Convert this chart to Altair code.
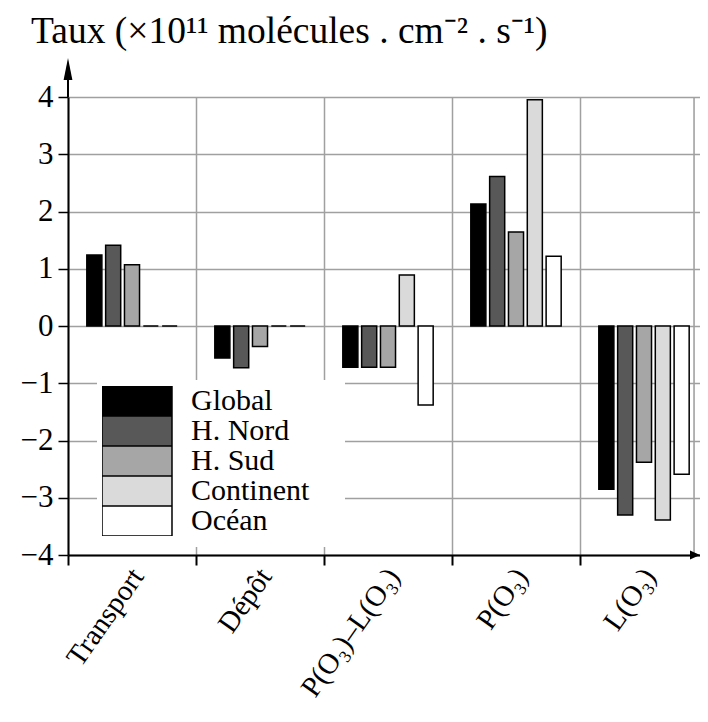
import altair as alt
import pandas as pd

# ---- data ----
categories = ["Transport", "Dépôt", "P(O₃)–L(O₃)", "P(O₃)", "L(O₃)"]
series = ["Global", "H. Nord", "H. Sud", "Continent", "Océan"]
transport = [1.24, 1.41, 1.07, 0.0, 0.0]
depot = [-0.56, -0.73, -0.36, 0.0, 0.0]
p_minus_l = [-0.72, -0.72, -0.72, 0.89, -1.38]
production = [2.13, 2.61, 1.64, 3.95, 1.22]
loss = [-2.85, -3.30, -2.38, -3.39, -2.59]
y_ticks = [-4, -3, -2, -1, 0, 1, 2, 3, 4]
fills = ["#000000", "#585858", "#a6a6a6", "#dadada", "#ffffff"]
title_text = "Taux (×10¹¹ molécules . cm⁻² . s⁻¹)"

rows = []
for cat, vals in zip(categories, [transport, depot, p_minus_l, production, loss]):
    for s, v in zip(series, vals):
        rows.append({"cat": cat, "serie": s, "val": v})
df = pd.DataFrame(rows)

FONT = "Liberation Serif"
GRID = "#a0a0a0"

x_enc = alt.X(
    "cat:N",
    sort=categories,
    scale=alt.Scale(range=[0, 640], paddingInner=0, paddingOuter=0),
    axis=alt.Axis(
        title=None,
        tickBand="extent",
        labelAngle=-55,
        labelAlign="right",
        labelBaseline="middle",
        labelFont=FONT,
        labelFontSize=29,
        labelColor="black",
        labelPadding=6,
        labelOffset=5,
        tickSize=10,
        tickColor="black",
        tickWidth=2,
        domainColor="black",
        domainWidth=2,
        grid=True,
        gridColor=GRID,
        gridWidth=1.5,
    ),
)

y_enc = alt.Y(
    "val:Q",
    scale=alt.Scale(domain=[-4, 4], nice=False, zero=False),
    axis=alt.Axis(
        title=None,
        values=y_ticks,
        labelFont=FONT,
        labelFontSize=31,
        labelColor="black",
        labelPadding=5,
        tickSize=10,
        tickColor="black",
        tickWidth=1.5,
        domainColor="black",
        domainWidth=2,
        grid=True,
        gridColor=GRID,
        gridWidth=1.5,
    ),
)

bars = alt.Chart(df).mark_bar(stroke="black", strokeWidth=1.5).encode(
    x=x_enc,
    xOffset=alt.XOffset(
        "serie:N", sort=series, scale=alt.Scale(paddingInner=0.2, paddingOuter=1)
    ),
    y=y_enc,
    fill=alt.Fill(
        "serie:N",
        sort=series,
        scale=alt.Scale(domain=series, range=fills),
        legend=alt.Legend(
            orient="none",
            legendX=29,
            legendY=284,
            title=None,
            symbolType="M-2.333,-1H2.333V1H-2.333Z",
            symbolSize=900,
            symbolStrokeColor="black",
            symbolStrokeWidth=1.5,
            symbolOffset=19,
            labelOffset=38,
            labelFont=FONT,
            labelFontSize=30,
            labelColor="black",
            clipHeight=30,
            rowPadding=0,
            fillColor="white",
            padding=5,
        ),
    ),
)

deco = alt.Chart(pd.DataFrame({"k": [0]}))
right_edge = deco.mark_rule(color=GRID, strokeWidth=1.5).encode(
    x=alt.value(626), y=alt.value(0), y2=alt.value(458)
)
legend_bg = deco.mark_rect(fill="white", stroke=None).encode(
    x=alt.value(29), x2=alt.value(277), y=alt.value(283), y2=alt.value(450)
)
y_line = deco.mark_rule(color="black", strokeWidth=2).encode(
    x=alt.value(0), y=alt.value(-20), y2=alt.value(0)
)
y_arrow = deco.mark_point(
    shape="M0,-1L0.4,1L-0.4,1Z", size=484, filled=True, color="black", opacity=1
).encode(x=alt.value(0), y=alt.value(-28))
x_arrow = deco.mark_point(
    shape="M1,0L-1,-0.9L-1,0.9Z", size=100, filled=True, color="black", opacity=1
).encode(x=alt.value(627), y=alt.value(458))
title = deco.mark_text(
    text=title_text, font=FONT, fontSize=37.5, align="left", baseline="alphabetic", color="black"
).encode(x=alt.value(-37), y=alt.value(-54))

chart = (
    alt.layer(right_edge, legend_bg, bars, y_line, y_arrow, x_arrow, title)
    .properties(
        width=626,
        height=458,
        autosize=alt.AutoSizeParams(type="none"),
        padding={"left": 60, "top": 89, "right": 6, "bottom": 158},
    )
    .configure_view(stroke=None)
    .configure(font=FONT)
)

chart.save("out.html", embed_options={"renderer": "svg", "actions": False})
